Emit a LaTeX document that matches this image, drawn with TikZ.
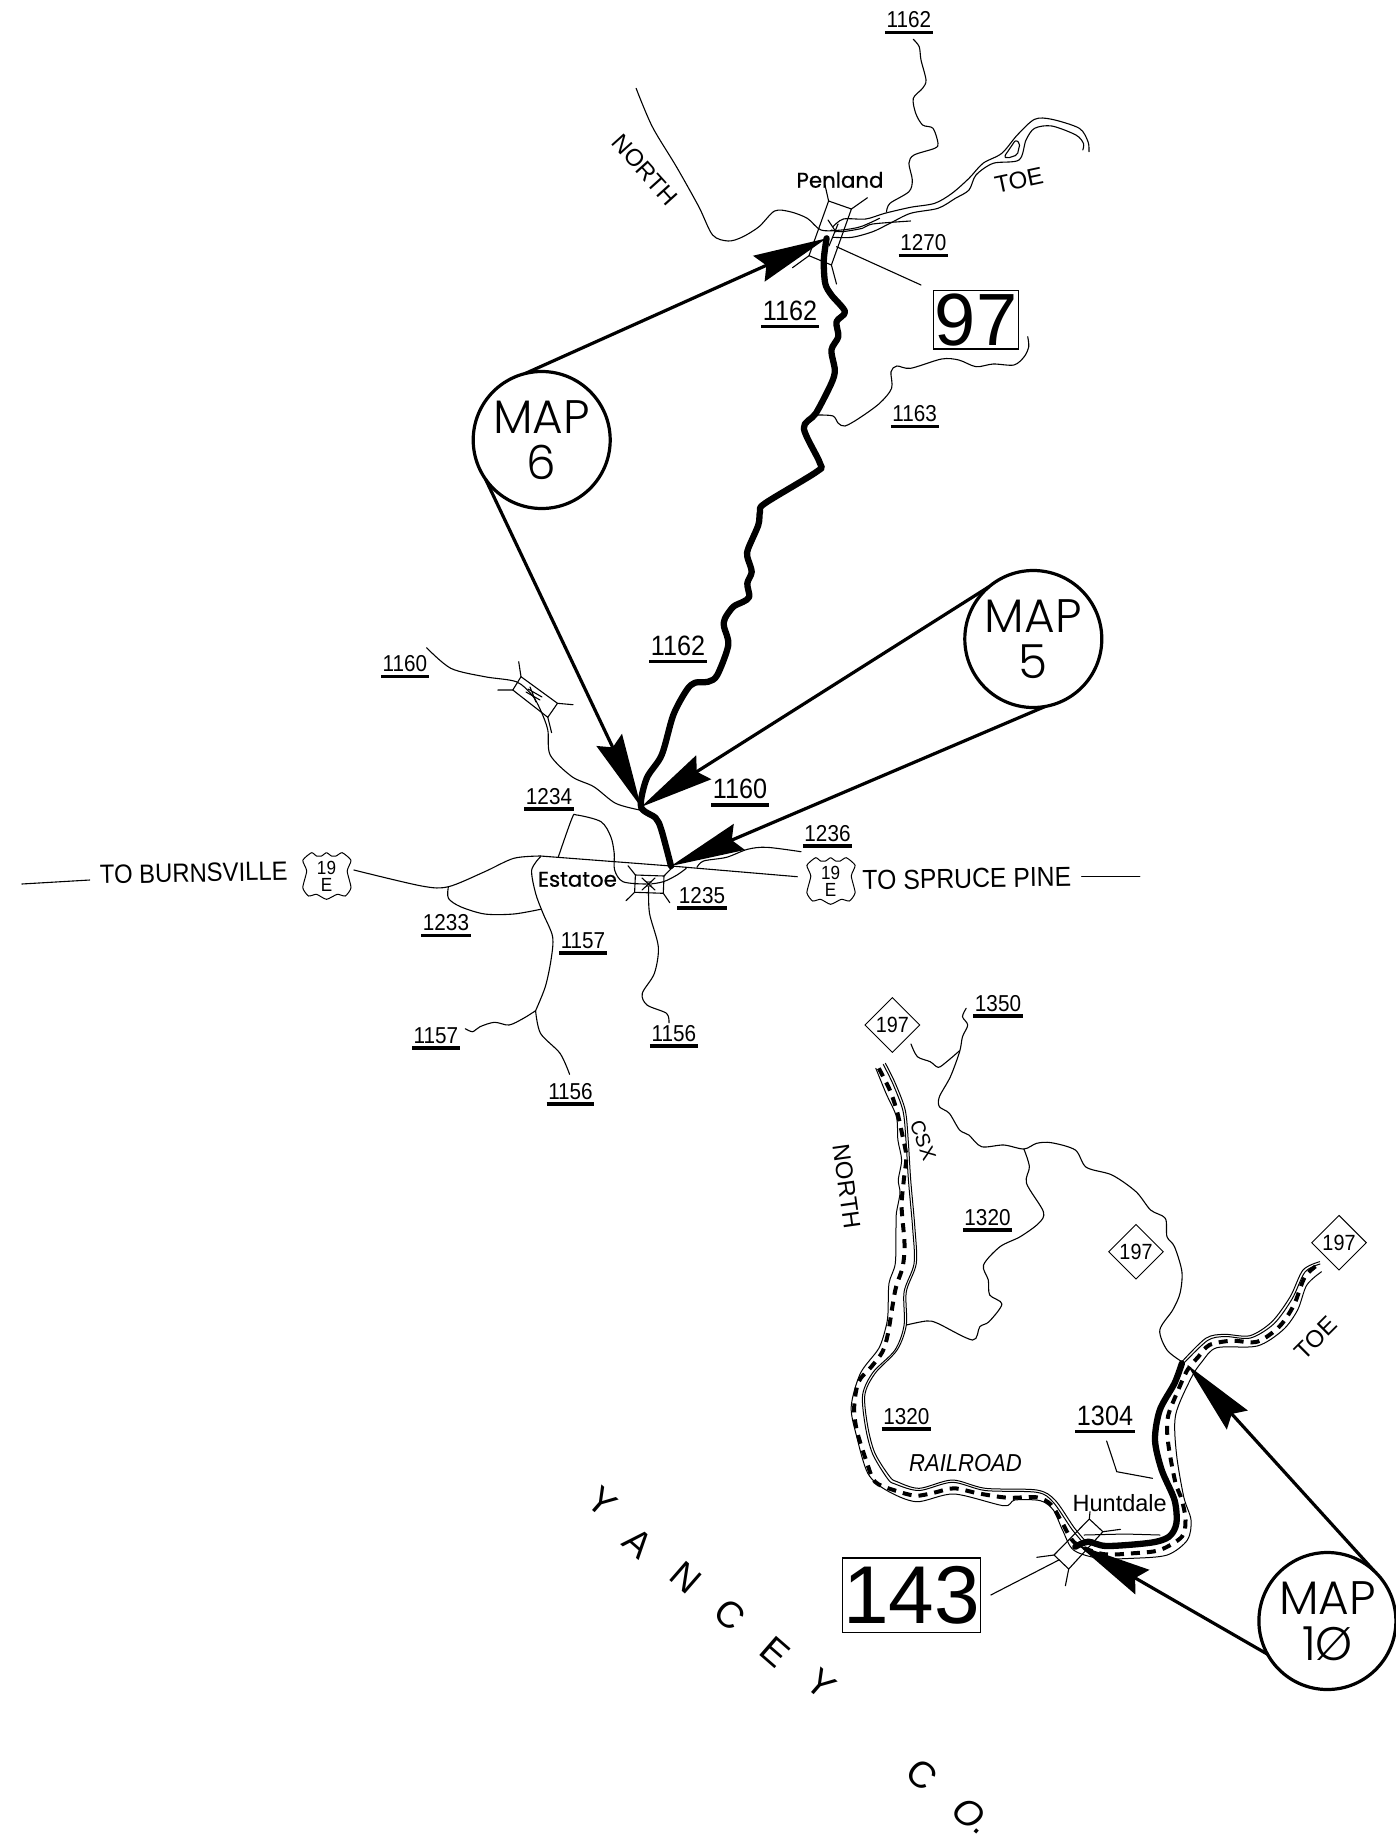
\documentclass[tikz,border=0pt]{standalone}
\usepackage{fontspec}
\usetikzlibrary{arrows.meta,shapes.geometric}
\setmainfont{Liberation Sans}
\newfontfamily\narrowfont[FakeStretch=0.9]{Liberation Sans}
\newfontfamily\geofont[FakeBold=0.6]{Poppins}
\newfontfamily\mapfont{Poppins Light}
\newcommand\fs[1]{\fontsize{#1}{#1}\selectfont}
\tikzset{
 x=1pt,y=-1pt,
 road/.style={line width=1.1pt,line join=round,line cap=round},
 bank/.style={line width=1pt,line join=round,line cap=round},
 thickroad/.style={line width=6.3pt,line join=round,line cap=round},
 rail/.style={line width=4pt,dash pattern=on 9pt off 7pt},
 maparrow/.style={line width=3.2pt,-{Stealth[length=74pt,width=28pt,inset=8pt]}},
 mapcircle/.style={circle,draw,line width=3.2pt,minimum size=137pt,inner sep=0pt,outer sep=0pt,align=center,font=\mapfont\fs{47}},
 labsmall/.style={anchor=base,inner xsep=1.5pt,inner ysep=4.5pt,font=\narrowfont\fs{23}},
 labbig/.style={anchor=base,inner xsep=1.5pt,inner ysep=6pt,font=\narrowfont\fs{28}},
 labbar/.style={line width=3.6pt},
 rivername/.style={font=\fs{24},inner sep=0pt},
 totext/.style={anchor=base,font=\narrowfont\fs{26.5},inner sep=0pt},
 place/.style={anchor=base,font=\geofont\fs{21.3},inner sep=0pt},
 routebox/.style={draw,line width=1.2pt,inner sep=0pt,outer sep=0pt},
 statediamond/.style={diamond,draw,line width=.9pt,aspect=1,minimum size=55pt,inner sep=0pt,font=\narrowfont\fs{22}},
 county/.style={font=\fs{37},inner sep=0pt,rotate=-41},
 shieldtext/.style={align=center,font=\narrowfont\fs{19},inner sep=0pt},
 shield/.pic={\draw[line width=1pt,line join=round] plot[smooth cycle,tension=.35] coordinates {(-23.7,-15.7)(-15,-23.3)(-10,-20)(-5,-20)(0,-23.3)(5,-20)(9.6,-20)(15.7,-23.3)(24.5,-15.7)(20.7,-5)(24.5,11.7)(18.8,20)(10.7,18.3)(0,23.3)(-10,18.3)(-18,20)(-23.7,11.7)(-19.8,-5)};},
}
\newcommand\rdp[2][road]{\draw[#1] plot[smooth,tension=.5] coordinates {#2};}
\newcommand\rdlab[5]{\node[#1] (#2) at (#3,#4) {#5}; \draw[labbar] (#2.south west) -- (#2.south east);}
\begin{document}
\begin{tikzpicture}
\useasboundingbox (0,0) rectangle (1396,1836);
\fill[white] (0,0) rectangle (1396,1836);
% named end points
\coordinate (tipPen) at (826.6,238.3);
\coordinate (tipMid) at (641,807);
\coordinate (tipEst) at (671,866);
\coordinate (tipToe) at (1187.4,1365);
\coordinate (tipHun) at (1078,1545);
% upper thick road
\rdp[thickroad]{(826.6,238.3)(823.8,260)(825.2,283.3)(831.4,295)(845,311.7)(836.5,321.7)(838.3,336.7)(831.4,350)(834.8,370)(831.4,383.3)(815.9,413.3)(803.8,428.3)(820,463.3)(816.7,471.7)(765,503.3)(760,511.7)(758.3,525)(748.3,548.3)(747.3,556.7)(751.7,571.7)(747.3,583.3)(749.3,596.7)(743.3,601.7)(733.3,606.7)(725,618.3)(724,626.7)(728.3,645)(717.3,675)(708.3,681.7)(695,682.7)(686.7,690)(673.3,715)(661.7,755)(646.7,778.3)(641,806.7)(655.7,818)(661.4,830)(671,866)}
% north river upper
\rdp{(636.1,88.3)(652.3,126.7)(676.4,166.7)(698.8,206.7)(712.6,235)(728,241)(741.8,237.3)(759,226.7)(774.6,211)(790,211.7)(807.3,218.3)(821,230)(841.7,230)(860.6,226.7)(879.6,218.3)}
% toe upper
\rdp{(833,226.7)(843.4,219)(865.8,219)(884.8,213.3)(910.6,207.3)(934.7,203.3)(952,193.3)(969,178.3)(983,163.3)(1001.8,153.3)(1017.3,135)(1034.6,119.3)(1051.8,119.3)(1079.3,128.3)(1088,141.7)(1089,151.7)}
\rdp{(833,237.3)(852,237.3)(872.7,231.7)(890,223.3)(910.6,213.3)(938,208.3)(955.4,198.3)(969,190)(976,175)(993.2,163.3)(1019,160)(1026,140)(1034.6,128.3)(1051.8,126)(1075.9,135)(1083.4,143.3)(1082.8,150)}
\draw[road,rounded corners=2pt] (1004.2,156.7)--(1015.6,140)--(1020,143.3)--(1017.3,155)--(1007,158.3)--cycle;
% 1270
\rdp{(831.4,230)(841.7,231.7)(862.4,228.3)(872.7,224)(910.6,221)}
% 1162 top
\rdp{(913.3,39.3)(919.2,46.7)(921,60)(926,80)(922.6,88.3)(913.3,98.3)(915.7,113.3)(922.6,125)(933,128.3)(938,143.3)(934.7,148.3)(914,155)(908.9,163.3)(912.3,180)(908.9,191.7)(890,203.3)(886.5,211.7)}
% Penland intersection
\draw[road] (828.6,201)--(851.4,209)--(831.4,265)--(809,255.7)--cycle;
\draw[road] (828.6,201)--(825,185) (851.4,209)--(867.5,197.7) (831.4,265)--(836.5,284) (809,255.7)--(792.5,267.7);
\draw[road] (828,220)--(836,232) (838,224)--(829,246);
\draw[road] (836.5,246.7)--(921,285);
% 1163
\rdp{(817.6,415)(833,416)(838.3,423.3)(845,426)(859,418.3)(879.6,403.3)(891.6,388.3)(891,371.7)(896.8,366)(910.6,368.3)(941.6,359)(958.8,360)(976,366.7)(993.2,364)(1013.9,365)(1024.2,356.7)(1028.7,346.7)(1027.7,336.7)}
% 1160
\rdp{(426.6,647.7)(450.8,668.3)(484.7,676.7)(516.2,681.7)(532,695)(540.5,710)(547.8,730)(550.2,755)(572,776.7)(593.8,786.7)(615.6,803.3)(639.8,810)}
\draw[road] (521,676.7)--(557.5,703.3)--(547.8,717.3)--(512.8,690)--cycle;
\draw[road] (521,676.7)--(518.7,661.7) (557.5,703.3)--(573,704.7) (547.8,717.3)--(551.6,732.7) (512.8,690)--(497.8,690);
\draw[road] (526,692)--(540,700) (528,689)--(542,697) (530,687)--(536,702);
% 19E west-east road
\rdp{(353.9,870)(421.7,886)(448.4,886.7)(484.7,871.7)(513.8,858.3)(540.5,856)}
\draw[road] (540.5,856)--(671,866)--(797.3,876.7);
% 1233
\rdp{(448.4,886.7)(448.4,898.3)(460.5,906.7)(484.7,914)(513.8,914)(540.5,909.3)}
% 1157
\rdp{(540.5,856.7)(531.7,870)(535.6,893.3)(543,913.3)(552.6,936.7)(551,960)(545.3,986.7)(535.6,1010.7)}
\rdp{(535.6,1010.7)(540.5,1033.3)(560,1053.3)(569.6,1074.3)}
\rdp{(535.6,1010.7)(523.5,1018.3)(509,1025)(494.4,1022.3)(480,1026.7)(472.6,1031.7)(465.3,1028.7)}
% 1234 and 1235
\rdp{(558.4,856.7)(572,818.3)(576.8,815)(601,821.7)(610.8,836.7)(614.2,853.3)(614.6,870)(623,881.7)(647,884)(663.3,881.7)(677,875)(686.3,868.3)}
% Estatoe intersection
\draw[road] (635.4,875)--(664,876)--(663.3,893.3)--(634.6,892.3)--cycle;
\draw[road] (635.4,875)--(628,865.7) (664,876)--(673,866.7) (663.3,893.3)--(669.8,902.7) (634.6,892.3)--(626,900.7);
\fill[gray] (645.5,881) rectangle (652,887);
\draw[road] (642,878)--(655,890) (655,878)--(642,890);
% 1156 mid
\rdp{(648.6,886.7)(649.5,913.3)(658.3,946.7)(654.4,973.3)(642.3,993.3)(647,1005)(666.5,1013.3)(669,1022.7)}
% 1236
\rdp{(697,867.3)(703.5,861)(726.5,857.3)(747.5,849.3)(766.7,847.3)(801,851.7)}
% 197 road
\rdp{(966.2,1008.3)(962.5,1016.7)(967.7,1025)(962.5,1036.7)(959.6,1051.7)(950.4,1076.7)(939.4,1096.7)(939.4,1106.7)(949.3,1113.3)(959.6,1130)(968.8,1135)(981.6,1146.7)(1003.7,1145)(1023.9,1149)(1036.7,1143.3)(1051.4,1142.7)(1075.3,1150)(1086.3,1167.3)(1112,1175)(1136,1191.7)(1150.6,1210)(1165.3,1218.3)(1167,1236.7)(1174.5,1246.7)(1181.9,1271.7)(1180,1293.3)(1172.7,1310)(1159.8,1330)(1167,1350)(1181.9,1361.7)}
\rdp{(911,1044)(917.4,1056.7)(930.2,1061.7)(938.3,1067.3)(946.7,1061.7)(959.6,1050.7)}
% 1320
\rdp{(1023.9,1149)(1029.4,1166.7)(1026.5,1183.3)(1043.4,1211.7)(1038.6,1223.3)(1020.2,1236.7)(1000,1246.7)(983.5,1265)(988.3,1280)(989.7,1295)(1001.9,1304)(989,1321.7)(979.8,1326.7)(972.5,1340)(937.6,1323.3)(926.5,1321)(906.3,1325)}
% thick 1304
\rdp[thickroad]{(1181.9,1363.3)(1174.5,1383.3)(1159.8,1410)(1155,1440)(1161.7,1470)(1174.5,1500)(1176.4,1523.3)(1169,1536.7)(1150.6,1542.7)(1106.6,1546)(1088.2,1541.7)(1075.3,1546.7)}
% railroad dashed
\rdp[rail]{(878.8,1068.3)(889.8,1090)(897.1,1111.7)(902.7,1136.7)(906.3,1156.7)(903.8,1180)(901.6,1206.7)(904.5,1243.3)(902.7,1266.7)(895.3,1290)(888,1333.3)(882.5,1351.7)(871.4,1366.7)(858.6,1381.7)(854.2,1406.7)(856.7,1430)(866,1460)(875,1481.7)(893.5,1490)(915.5,1495.7)(933.9,1492.7)(954,1488.3)(978,1493.3)(1007.4,1497.7)(1036.7,1497.3)(1051.4,1505)(1062.5,1523.3)(1075.3,1543.3)(1102.9,1554)(1132.3,1553.3)(1159.8,1550)(1181.9,1536.7)(1185.5,1520)(1181.9,1500)(1175.6,1483.3)(1169.7,1453.3)(1167.2,1433.3)(1168.3,1415)(1178.2,1390)(1187.4,1370)(1198.4,1356.7)(1209.4,1345)(1231.5,1340.7)(1257.2,1341.7)(1279.2,1326.7)(1293.9,1305)(1305,1276.7)(1319.6,1263.3)}
% south/west bank
\rdp[bank]{(875.8,1068.3)(886,1093.3)(896.4,1116.7)(897.9,1140)(901.6,1160)(898.3,1180)(900,1193)(896.4,1213)(896,1226.7)(895.3,1263.3)(889,1283.3)(888,1313)(886,1326.7)(878.8,1348.3)(860.4,1373.3)(851.2,1406.7)(856.7,1436.7)(867.8,1473.3)(886,1490)(916.3,1501.7)(954,1494)(1003.7,1505.7)(1014.7,1500)(1040.4,1500.7)(1053.3,1510)(1062.5,1530)(1073.5,1550)(1099,1558.3)(1132.3,1558.3)(1167.2,1555)(1187.4,1540)(1191,1520)(1183.7,1496.7)(1176.4,1453.3)(1175.6,1415)(1191,1378.3)(1202,1361.7)(1216.8,1347.7)(1257.2,1346)(1282.9,1330)(1297.6,1310)(1306.8,1285)(1321.5,1271.7)}
% north/east banks, railway edges
\rdp[bank]{(885.4,1063.3)(895.3,1083.3)(905.2,1110)(908.2,1140)(910.7,1180)(914.8,1226.7)(916.3,1263.3)(906.3,1291.7)(906.3,1325)(897.1,1350)(875.1,1373.3)(864.8,1395)(867.8,1426.7)(875,1453.3)(889.8,1476.7)(897.1,1481.7)(919.2,1488.3)(952.3,1480)(985.3,1488.3)(1036.7,1490)(1055,1500)(1073.5,1526.7)(1084.5,1540)}
\rdp[bank]{(883.2,1064.3)(893.1,1084.3)(903,1111)(906,1141)(908.5,1181)(912.6,1227.7)(914.1,1263.3)(904.1,1291.7)(904.1,1325)(895,1350)(873,1372.3)(862.6,1395)(865.6,1427.7)(872.8,1454.3)(887.6,1478.7)(895.1,1484)(919.2,1490.5)(952.3,1482.3)(985.3,1490.5)(1036.7,1492.3)(1053,1502)(1071.5,1528.7)(1082.5,1542)}
\rdp[bank]{(1181.9,1361.7)(1205.7,1338.3)(1224,1334.3)(1249.8,1335.7)(1271.9,1321.7)(1290.2,1296.7)(1303,1270)(1319.6,1261.7)}
\rdp[bank]{(1184,1363)(1207.5,1340.5)(1225,1336.5)(1250.5,1338)(1274,1323.7)(1292.2,1298.7)(1305,1272)(1320,1264)}
\draw[bank] (1084,1535)--(1125,1534)--(1160,1535);
% Huntdale intersection
\draw[road] (1089.3,1519)--(1102.9,1531.7)--(1068.7,1569)--(1054,1555)--cycle;
\draw[road] (1089.3,1519)--(1090,1511.7) (1102.9,1531.7)--(1120.5,1529.3) (1068.7,1569)--(1065.4,1585.7) (1054,1555)--(1036.8,1557.3);
\draw[road] (1058.8,1560)--(990.8,1595);
\draw[road] (1106.6,1441)--(1116.8,1471.7)--(1152.5,1478.3);
% misc lines
\draw[road] (21.8,884)--(89.7,880);
\draw[road] (1081.6,876.7)--(1139.8,876.7);
% MAP circles
\node[mapcircle] (map6) at (541.7,440) {MAP\\[-1pt]6};
\node[mapcircle] (map5) at (1033.3,639) {MAP\\[-1pt]5};
\node[mapcircle] (map10) at (1327.4,1621) {MAP\\[-1pt]1Ø};
\draw[maparrow] (map6.104) -- (tipPen);
\draw[maparrow] (map6.215) -- (tipMid);
\draw[maparrow] (map5.130) -- (tipMid);
\draw[maparrow] (map5.-80) -- (tipEst);
\draw[maparrow] (map10.47) -- (tipToe);
\draw[maparrow] (map10.209) -- (tipHun);
% road labels
\rdlab{labsmall}{l1162a}{908.9}{27.7}{1162}
\rdlab{labsmall}{l1270}{923.4}{250.7}{1270}
\rdlab{labbig}{l1162b}{790}{320}{1162}
\rdlab{labsmall}{l1163}{914.7}{421.7}{1163}
\rdlab{labsmall}{l1160a}{405}{671.7}{1160}
\rdlab{labbig}{l1162c}{678}{655}{1162}
\rdlab{labsmall}{l1234}{549}{804.3}{1234}
\rdlab{labsmall}{l1233}{446}{930.7}{1233}
\rdlab{labsmall}{l1157a}{583}{948.3}{1157}
\rdlab{labsmall}{l1235}{702}{903.3}{1235}
\rdlab{labsmall}{l1156a}{673.8}{1041}{1156}
\rdlab{labsmall}{l1157b}{436}{1043.3}{1157}
\rdlab{labsmall}{l1156b}{570.5}{1099}{1156}
\rdlab{labbig}{l1160b}{740}{798.3}{1160}
\rdlab{labsmall}{l1236}{827.5}{841}{1236}
\rdlab{labsmall}{l1350}{998}{1011}{1350}
\rdlab{labsmall}{l1320a}{987.5}{1225}{1320}
\rdlab{labsmall}{l1320b}{906.3}{1424}{1320}
\rdlab{labbig}{l1304}{1105}{1425}{1304}
% place and river names
\node[place] (penland) at (840,187.7) {Penland};
\node[place] (estatoe) at (577.5,886.7) {Estatoe};
\node[anchor=base,font=\fs{23.5},inner sep=0pt] (huntdale) at (1119.7,1511.7) {Huntdale};
\node[rivername,rotate=-48] (north1) at (645,170) {NORTH};
\node[rivername,rotate=12] (toe1) at (1019,180) {TOE};
\node[rivername,rotate=-82] (north2) at (846.5,1186.7) {NORTH};
\node[rivername,rotate=45] (toe2) at (1316,1338) {TOE};
\node[font=\fs{20},inner sep=0pt,rotate=-70] (csx) at (923,1140) {CSX};
\node[anchor=base,font=\narrowfont\itshape\fs{24.5},inner sep=0pt] (rr) at (965.5,1471.7) {RAILROAD};
\node[totext,rotate=1.2] (burn) at (194,882) {TO BURNSVILLE};
\node[totext,font=\narrowfont\fs{27.5},rotate=1] (spruce) at (967,888) {TO SPRUCE PINE};
% route markers
\node[routebox,minimum width=84.7pt,minimum height=58.3pt,font=\fs{74}] (r97) at (976,319.8) {97};
\node[routebox,minimum width=137.4pt,minimum height=74.3pt,font=\fs{82}] (r143) at (911.5,1595.1) {143};
\pic at (326.5,876) {shield};
\node[shieldtext] (us19a) at (326.5,876) {19\\[-2pt]E};
\pic at (830.6,881) {shield};
\node[shieldtext] (us19b) at (830.6,881) {19\\[-2pt]E};
\node[statediamond] (nc197a) at (892.4,1025) {197};
\node[statediamond] (nc197b) at (1136,1251.7) {197};
\node[statediamond] (nc197c) at (1339,1242.7) {197};
% county name
\node[county] (c1) at (601.7,1501.7) {Y};
\node[county] (c2) at (638.3,1543.3) {A};
\node[county] (c3) at (686,1577.3) {N};
\node[county] (c4) at (730,1615) {C};
\node[county] (c5) at (775,1651.7) {E};
\node[county] (c6) at (820.7,1684) {Y};
\node[county] (c7) at (922.3,1775) {C};
\node[county,font=\itshape\fs{37}] (c8) at (968.3,1813.3) {O};
\node[county] (c9) at (977,1831.5) {.};
\end{tikzpicture}
\end{document}
